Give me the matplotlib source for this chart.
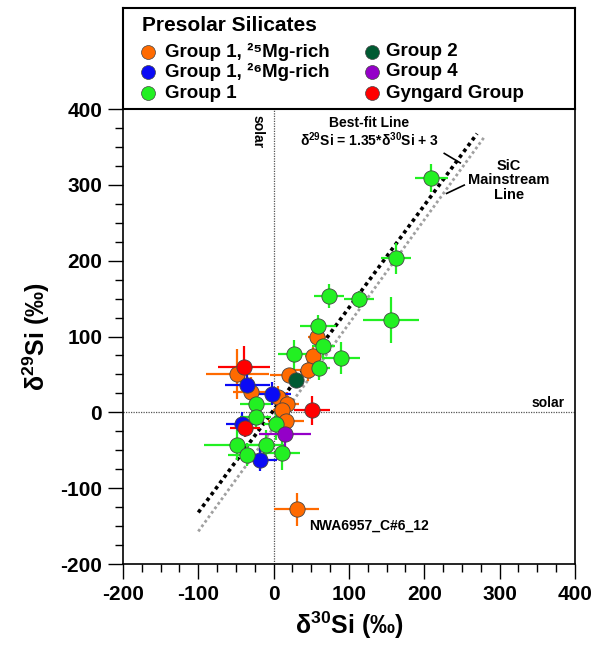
import matplotlib
matplotlib.use("Agg")
import matplotlib.pyplot as plt
from matplotlib.ticker import MultipleLocator

plt.rcParams['font.family'] = ['Liberation Sans', 'DejaVu Sans']
plt.rcParams['font.weight'] = 'bold'
plt.rcParams['axes.unicode_minus'] = False
plt.rcParams['mathtext.fontset'] = 'custom'
plt.rcParams['mathtext.rm'] = 'Liberation Sans'
plt.rcParams['mathtext.it'] = 'Liberation Sans:italic'
plt.rcParams['mathtext.bf'] = 'Liberation Sans:bold'

# Group 1, 25Mg-rich (orange)
g25_x = [58, 52, 46, 20, -48, -30.6, 6, 18, 11.5, 16, 30.6]
g25_y = [100, 74, 56.5, 49, 51, 27, 20, 11.4, 2.6, -12, -128]
g25_xerr = [12, 10, 20, 25, 42, 23, 15, 15, 12, 24, 30]
g25_yerr = [12, 12, 15, 10, 33, 20, 15, 16, 12, 15, 22]

# Group 1, 26Mg-rich (blue)
g26_x = [-35, -1.7, -41.6, -18]
g26_y = [35.6, 24.7, -15, -62.5]
g26_xerr = [30, 25, 22, 22]
g26_yerr = [15, 15, 15, 15]

# Group 1 (green)
g1_x = [209, 162, 73.6, 113.5, 155.6, 59.4, 66, 89, 27, 60, -24, -24, 2.7, -48, -10.6, -36, 10.6]
g1_y = [309, 203, 153, 149, 122, 113.5, 87, 72, 76.6, 58, 11.5, -6, -16, -43, -43.6, -56, -54]
g1_xerr = [22, 20, 20, 20, 37, 24, 15, 25, 21, 15, 20, 20, 15, 44, 25, 25, 25]
g1_yerr = [19, 20, 16, 11, 30, 15, 15, 21, 19, 15, 15, 15, 20, 20, 20, 15, 22]

# Group 2 (dark green)
g2_x = [30]
g2_y = [43]
g2_xerr = [5]
g2_yerr = [5]

# Group 4 (purple)
g4_x = [15]
g4_y = [-28.5]
g4_xerr = [35]
g4_yerr = [25]

# Gyngard Group (red)
gy_x = [-39.5, 51.4, -38]
gy_y = [60, 2.6, -20]
gy_xerr = [35, 24, 20]
gy_yerr = [28, 19, 12]

# lines: slope, intercept, x range
fit_slope, fit_icpt, fit_xr = 1.35, 3, (-100, 270)
sic_slope, sic_icpt, sic_xr = 1.37, -20, (-100, 280)

groups = [
    ("Group 1, ²⁵Mg-rich", "#FF6A00", g25_x, g25_y, g25_xerr, g25_yerr),
    ("Group 1, ²⁶Mg-rich", "#0A0AF5", g26_x, g26_y, g26_xerr, g26_yerr),
    ("Group 1", "#22F022", g1_x, g1_y, g1_xerr, g1_yerr),
    ("Group 2", "#005A32", g2_x, g2_y, g2_xerr, g2_yerr),
    ("Group 4", "#9400C8", g4_x, g4_y, g4_xerr, g4_yerr),
    ("Gyngard Group", "#FF0000", gy_x, gy_y, gy_xerr, gy_yerr),
]

fig = plt.figure(figsize=(5.97, 6.51), dpi=100)
ax = fig.add_axes([0.2060, 0.1336, 0.7571, 0.6989])

# solar reference lines
ax.axvline(0, color='#555555', lw=0.9, ls=(0, (1, 1)), zorder=1)
ax.axhline(0, color='#555555', lw=0.9, ls=(0, (1, 1)), zorder=1)

# best-fit and SiC mainstream lines
ax.plot(fit_xr, [fit_slope * v + fit_icpt for v in fit_xr], color='black',
        lw=2.6, ls=(0, (1, 1)), zorder=2)
ax.plot(sic_xr, [sic_slope * v + sic_icpt for v in sic_xr], color='#A0A0A0',
        lw=2.0, ls=(0, (1, 1)), zorder=2)

# error bars first, markers on top
for label, col, x, y, xe, ye in groups:
    ax.errorbar(x, y, xerr=xe, yerr=ye, fmt='none', ecolor=col, elinewidth=1.6,
                capsize=0, zorder=3)
for label, col, x, y, xe, ye in groups:
    ax.plot(x, y, 'o', color=col, markersize=11, markeredgecolor='#444444',
            markeredgewidth=0.6, zorder=4)

ax.set_xlim(-200, 400)
ax.set_ylim(-200, 400)
ax.xaxis.set_major_locator(MultipleLocator(100))
ax.xaxis.set_minor_locator(MultipleLocator(25))
ax.yaxis.set_major_locator(MultipleLocator(100))
ax.yaxis.set_minor_locator(MultipleLocator(25))
ax.tick_params(which='major', direction='out', length=11, width=1, labelsize=15, pad=4)
ax.tick_params(which='minor', direction='out', length=6, width=1)
ax.tick_params(top=False, right=False, which='both')
for lab in ax.get_xticklabels() + ax.get_yticklabels():
    lab.set_fontweight('bold')
for sp in ax.spines.values():
    sp.set_linewidth(1.2)

ax.set_xlabel(r'$\mathrm{\delta^{30}}$Si (‰)', fontsize=18, fontweight='bold', labelpad=4)
ax.set_ylabel(r'$\mathrm{\delta^{29}}$Si (‰)', fontsize=18, fontweight='bold', labelpad=6)

# annotations
ax.text(-21, 392, 'solar', rotation=270, ha='center', va='top', fontsize=10, fontweight='bold')
ax.text(386, 13, 'solar', ha='right', va='center', fontsize=10, fontweight='bold')
ax.text(127, 382, 'Best-fit Line', ha='center', va='center', fontsize=10, fontweight='bold')
ax.text(127, 359, r'$\mathrm{\delta^{29}}$Si = 1.35*$\mathrm{\delta^{30}}$Si + 3',
        ha='center', va='center', fontsize=10, fontweight='bold')
ax.text(312, 306, 'SiC\nMainstream\nLine', ha='center', va='center', fontsize=10.5,
        fontweight='bold', linespacing=1.05)
ax.text(47, -150, 'NWA6957_C#6_12', ha='left', va='center', fontsize=10, fontweight='bold')
ax.plot([226.5, 247.7], [341.5, 329], color='black', lw=1.2, zorder=2)
ax.plot([253, 229.6], [299.7, 288.7], color='black', lw=1.2, zorder=2)

# legend box above the plot, entries placed by hand in two columns
lax = fig.add_axes([0.2060, 0.8326, 0.7571, 0.1552])
lax.set_xlim(0, 1)
lax.set_ylim(0, 1)
lax.set_xticks([])
lax.set_yticks([])
for sp in lax.spines.values():
    sp.set_linewidth(1.5)
lax.text(0.041, 0.83, 'Presolar Silicates', ha='left', va='center',
         fontsize=15, fontweight='bold')
row_y = [0.564, 0.366, 0.158]
col_x = [(0.0553, 0.0929), (0.550, 0.583)]
for i, g in enumerate(groups):
    mx, tx = col_x[i // 3]
    yy = row_y[i % 3]
    lax.plot([mx], [yy], 'o', color=g[1], markersize=10,
             markeredgecolor='#444444', markeredgewidth=0.5)
    lax.text(tx, yy, g[0], ha='left', va='center', fontsize=13.5, fontweight='bold')

fig.savefig('out.png', dpi=100)
